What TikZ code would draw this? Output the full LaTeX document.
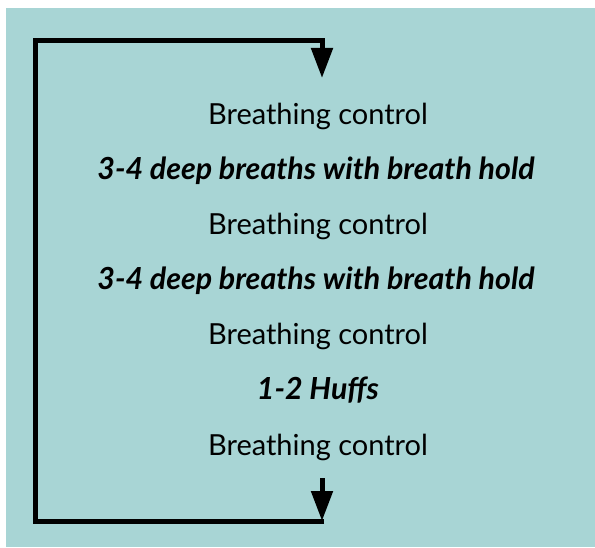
\documentclass[tikz,border=0pt]{standalone}
\usepackage{fontspec}
\setmainfont{Lato}
\usepackage{xcolor}
\usetikzlibrary{arrows.meta}

\definecolor{panel}{RGB}{168,213,213}

\begin{document}
\begin{tikzpicture}[
    x=1pt, y=1pt,
    stage/.style={anchor=base, font=\fontsize{29}{32}\selectfont},
    task/.style={anchor=base, font=\fontsize{30.4}{33}\selectfont\bfseries\itshape},
    loop/.style={line width=5pt, -{Triangle[length=30pt, width=21pt]}}
]

\useasboundingbox (0,0) rectangle (595,547);
\fill[panel] (6,0) rectangle (595,539);

% cycle steps, top to bottom
\node[stage] (bc1) at (318,422) {Breathing control};
\node[task]  (dbh1) at (316,367) {3-4 deep breaths with breath hold};
\node[stage] (bc2) at (318,312) {Breathing control};
\node[task]  (dbh2) at (316,257) {3-4 deep breaths with breath hold};
\node[stage] (bc3) at (318,202) {Breathing control};
\node[task]  (huff) at (318,147) {1-2 Huffs};
\node[stage] (bc4) at (318,92) {Breathing control};

\coordinate (exit) at (322,69);
\coordinate (back) at (322,26);
\coordinate (entry) at (322,469);

\draw[loop] (exit) -- (back);
\draw[loop, line join=miter] ([xshift=2pt]back) -- (35,26) -- (35,506) -- (322,506) -- (entry);

\end{tikzpicture}
\end{document}
